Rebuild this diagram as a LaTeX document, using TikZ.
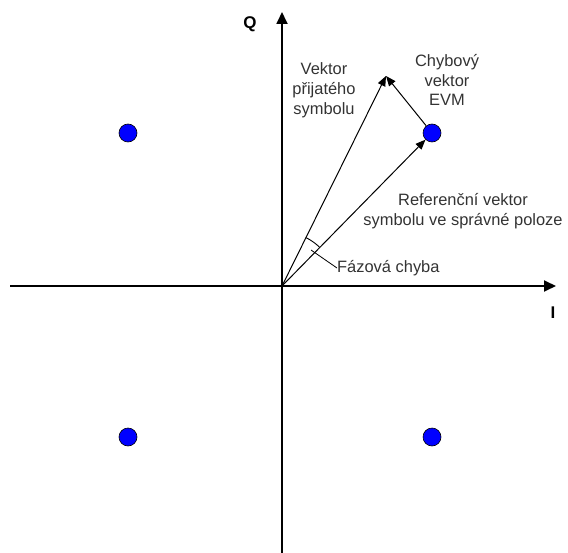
\documentclass[tikz,border=0pt]{standalone}
\usepackage{fontspec}
\setmainfont{Liberation Sans}
\usetikzlibrary{arrows.meta}
\begin{document}
\begin{tikzpicture}[x=1bp,y=-1bp,
  axis/.style={line width=1.8bp,-{Triangle[length=12bp,width=11bp]}},
  vec/.style={line width=1bp,-{Triangle[length=10bp,width=8bp]}},
  pt/.style={circle,draw=black,line width=0.6bp,fill=blue,minimum size=18bp,inner sep=0pt},
  lbl/.style={font=\fontsize{16.5}{20}\selectfont,text=black!80,align=center,inner sep=0pt},
  axlbl/.style={font=\fontsize{17}{20}\selectfont\bfseries,inner sep=0pt}]
\useasboundingbox (0,0) rectangle (568,553);
\coordinate (O) at (282,286);
\coordinate (xl) at (10,286);
\coordinate (xr) at (556,286);
\coordinate (yb) at (282,553);
\coordinate (yt) at (282,12);
\draw[axis] (xl) -- (xr);
\draw[axis] (yb) -- (yt);
\node[axlbl] (Q) at (250,24) {Q};
\node[axlbl] (I) at (553,313) {I};
\node[pt] (p1) at (128,133) {};
\node[pt] (p2) at (432,133) {};
\node[pt] (p3) at (128,437) {};
\node[pt] (p4) at (432,437) {};
\coordinate (tip) at (386,76);
\draw[vec] (O) -- (tip);
\draw[vec] (O) -- (p2);
\draw[vec] (p2) -- (tip);
\draw[line width=0.9bp] (O) ++(-45.6:54) arc[start angle=-45.6,end angle=-63.9,radius=54];
\coordinate (lead) at (311,250);
\node[lbl,anchor=west] (faz) at (337,268) {Fázová chyba};
\draw[line width=0.8bp] (lead) -- (faz.west);
\node[lbl] (rx) at (324,90) {Vektor\\přijatého\\symbolu};
\node[lbl] (evm) at (447,80) {Chybový\\vektor\\EVM};
\node[lbl] (ref) at (463,211) {Referenční vektor\\symbolu ve správné poloze};
\end{tikzpicture}
\end{document}
